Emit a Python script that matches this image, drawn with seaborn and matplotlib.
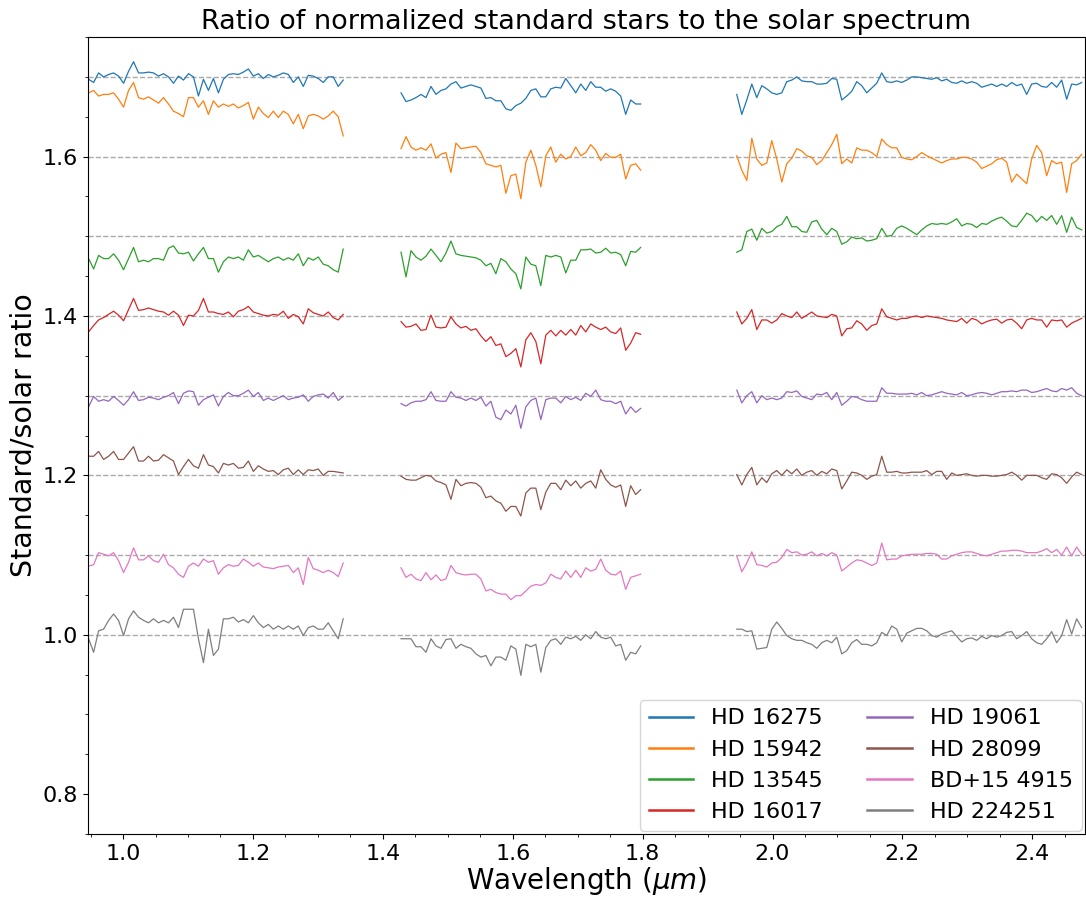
import numpy as np
import pandas as pd
import matplotlib
matplotlib.use("Agg")
import matplotlib.pyplot as plt
from matplotlib.lines import Line2D
from matplotlib.ticker import MultipleLocator
import seaborn as sns

# Standard stars, plotted top to bottom with a constant vertical offset
STARS = ["HD 16275", "HD 15942", "HD 13545", "HD 16017",
         "HD 19061", "HD 28099", "BD+15 4915", "HD 224251"]
OFFSETS = [0.7, 0.6, 0.5, 0.4, 0.3, 0.2, 0.1, 0.0]

# Wavelength coverage (micron) of the three atmospheric windows
BANDS = ["J", "H", "K"]
BAND_RANGES = {"J": (0.947, 1.339), "H": (1.428, 1.797), "K": (1.945, 2.476)}

# Standard / solar ratio, evenly sampled across each window
hd16275_j = [0.997, 0.993, 1.005, 1.000, 1.003, 1.005, 1.001, 0.992, 1.007, 1.019, 1.005, 1.005, 1.006,
             1.005, 1.001, 1.004, 1.000, 0.992, 1.001, 0.996, 1.004, 1.000, 0.976, 0.997, 0.983, 0.998,
             0.980, 0.997, 1.003, 1.004, 1.003, 1.006, 1.010, 1.001, 1.004, 0.998, 1.003, 1.000, 1.002,
             1.005, 1.003, 0.993, 1.000, 0.988, 1.002, 1.001, 0.998, 0.993, 1.000, 1.000, 0.988, 0.996]
hd16275_h = [0.980, 0.969, 0.971, 0.974, 0.978, 0.974, 0.988, 0.978, 0.983, 0.985, 0.991, 0.994, 0.986,
             0.988, 0.990, 0.988, 0.986, 0.973, 0.974, 0.970, 0.970, 0.960, 0.958, 0.964, 0.967, 0.973,
             0.983, 0.985, 0.975, 0.975, 0.985, 0.987, 0.986, 0.998, 0.989, 0.980, 0.991, 0.983, 0.994,
             0.987, 0.987, 0.982, 0.985, 0.982, 0.976, 0.953, 0.971, 0.966, 0.966]
hd16275_k = [0.978, 0.953, 0.971, 0.991, 0.974, 0.989, 0.985, 0.980, 0.978, 0.980, 0.994, 0.996, 1.000,
             0.995, 0.994, 0.994, 0.991, 0.991, 0.992, 0.998, 0.997, 0.971, 0.976, 0.982, 0.994, 0.989,
             0.980, 0.986, 0.992, 1.005, 0.994, 0.993, 0.995, 0.993, 0.996, 1.000, 1.000, 0.999, 0.998,
             0.997, 0.999, 0.995, 0.997, 0.993, 0.992, 0.995, 0.992, 0.994, 0.992, 0.987, 0.989, 0.991,
             0.988, 0.991, 0.988, 0.993, 0.989, 0.991, 0.978, 0.991, 0.992, 0.988, 0.987, 0.993, 0.987,
             0.996, 0.972, 0.991, 0.990, 0.993]

hd15942_j = [1.080, 1.083, 1.076, 1.078, 1.078, 1.080, 1.072, 1.062, 1.083, 1.093, 1.074, 1.072, 1.075,
             1.071, 1.067, 1.074, 1.066, 1.057, 1.054, 1.050, 1.074, 1.074, 1.062, 1.070, 1.053, 1.070,
             1.062, 1.066, 1.063, 1.066, 1.061, 1.064, 1.068, 1.047, 1.062, 1.054, 1.049, 1.057, 1.049,
             1.057, 1.053, 1.041, 1.053, 1.035, 1.051, 1.053, 1.051, 1.047, 1.051, 1.057, 1.050, 1.026]
hd15942_h = [1.010, 1.025, 1.012, 1.008, 1.011, 1.008, 1.016, 0.998, 1.003, 1.005, 0.980, 1.017, 1.010,
             1.011, 1.012, 1.013, 1.005, 0.991, 0.989, 0.987, 0.989, 0.954, 0.976, 0.978, 0.947, 0.993,
             1.008, 0.989, 0.962, 1.001, 1.012, 0.993, 1.003, 0.997, 1.000, 1.012, 1.001, 1.005, 1.015,
             1.008, 0.995, 1.004, 0.999, 0.999, 1.003, 0.972, 0.989, 0.991, 0.983]
hd15942_k = [1.001, 0.983, 0.970, 1.023, 0.997, 0.989, 0.992, 1.020, 0.997, 0.968, 0.991, 0.998, 1.010,
             1.007, 1.001, 0.999, 0.990, 0.995, 1.005, 1.015, 1.028, 0.991, 0.997, 0.992, 1.011, 1.008,
             1.008, 1.005, 1.000, 1.022, 1.015, 1.011, 1.011, 0.999, 0.997, 0.996, 1.000, 1.005, 1.001,
             0.998, 0.995, 0.992, 0.995, 0.997, 0.997, 0.999, 0.999, 0.997, 0.993, 0.985, 0.988, 0.991,
             0.996, 0.998, 0.993, 0.968, 0.978, 0.972, 0.966, 0.997, 1.014, 1.005, 0.976, 0.995, 0.991,
             0.993, 0.955, 0.991, 0.995, 1.003]

hd13545_j = [0.972, 0.959, 0.976, 0.972, 0.972, 0.978, 0.970, 0.958, 0.972, 0.986, 0.968, 0.970, 0.968,
             0.972, 0.972, 0.970, 0.985, 0.988, 0.979, 0.978, 0.980, 0.969, 0.978, 0.986, 0.972, 0.972,
             0.955, 0.968, 0.974, 0.972, 0.974, 0.970, 0.983, 0.974, 0.976, 0.972, 0.968, 0.972, 0.974,
             0.970, 0.973, 0.970, 0.978, 0.963, 0.973, 0.970, 0.974, 0.965, 0.963, 0.958, 0.955, 0.984]
hd13545_h = [0.980, 0.949, 0.982, 0.974, 0.970, 0.975, 0.984, 0.976, 0.968, 0.979, 0.994, 0.978, 0.976,
             0.975, 0.974, 0.973, 0.970, 0.963, 0.966, 0.953, 0.972, 0.968, 0.959, 0.953, 0.934, 0.974,
             0.965, 0.963, 0.938, 0.976, 0.974, 0.976, 0.974, 0.954, 0.970, 0.970, 0.983, 0.983, 0.984,
             0.979, 0.980, 0.985, 0.979, 0.980, 0.977, 0.963, 0.981, 0.980, 0.986]
hd13545_k = [0.980, 0.983, 1.006, 1.009, 0.995, 1.010, 1.004, 1.006, 1.012, 1.015, 1.025, 1.012, 1.012,
             1.006, 1.005, 1.018, 1.020, 1.009, 1.002, 1.010, 1.006, 0.990, 0.993, 0.999, 0.997, 0.998,
             0.994, 0.995, 0.997, 1.010, 1.000, 1.001, 1.010, 1.013, 1.010, 1.006, 1.002, 1.008, 1.013,
             1.016, 1.015, 1.016, 1.015, 1.018, 1.022, 1.013, 1.016, 1.015, 1.011, 1.016, 1.015, 1.019,
             1.022, 1.024, 1.019, 1.013, 1.012, 1.020, 1.029, 1.026, 1.018, 1.025, 1.020, 1.026, 1.015,
             1.026, 1.005, 1.024, 1.011, 1.008]

hd16017_j = [0.980, 0.988, 0.995, 0.998, 1.002, 1.006, 1.001, 0.994, 1.008, 1.022, 1.007, 1.008, 1.010,
             1.008, 1.006, 1.005, 1.001, 1.006, 1.001, 0.988, 1.001, 1.000, 1.007, 1.022, 1.005, 1.005,
             1.003, 1.002, 1.005, 0.999, 1.006, 1.008, 1.012, 1.005, 1.003, 1.001, 1.000, 1.002, 1.001,
             1.006, 0.997, 1.002, 0.999, 0.990, 1.009, 1.004, 1.002, 1.000, 1.005, 0.998, 0.995, 1.002]
hd16017_h = [0.993, 0.986, 0.987, 0.990, 0.982, 0.983, 1.001, 0.986, 0.985, 0.986, 0.999, 0.990, 0.985,
             0.987, 0.982, 0.984, 0.975, 0.968, 0.974, 0.963, 0.965, 0.949, 0.953, 0.959, 0.936, 0.970,
             0.979, 0.968, 0.940, 0.976, 0.982, 0.975, 0.982, 0.976, 0.983, 0.976, 0.988, 0.980, 0.990,
             0.986, 0.983, 0.986, 0.980, 0.978, 0.985, 0.957, 0.966, 0.979, 0.977]
hd16017_k = [1.005, 0.990, 0.997, 1.008, 0.983, 0.995, 0.995, 0.991, 0.995, 1.003, 1.000, 0.998, 1.005,
             0.997, 1.001, 1.005, 1.000, 0.999, 0.998, 1.002, 1.000, 0.975, 0.984, 0.985, 0.994, 0.990,
             0.982, 0.988, 0.990, 1.009, 0.999, 0.997, 0.995, 0.997, 0.997, 0.999, 1.000, 0.998, 1.000,
             0.999, 0.998, 0.997, 0.995, 0.994, 0.993, 0.997, 0.991, 0.997, 0.995, 0.990, 0.993, 0.995,
             0.996, 0.991, 0.995, 0.996, 0.991, 0.984, 0.995, 0.997, 0.995, 0.995, 0.986, 0.995, 0.994,
             0.995, 0.986, 0.991, 0.994, 0.997]

hd19061_j = [0.986, 0.999, 0.993, 0.995, 0.993, 0.999, 0.994, 0.988, 0.995, 1.005, 0.994, 0.995, 0.998,
             0.997, 0.995, 0.998, 1.000, 1.004, 0.990, 1.003, 1.006, 1.005, 0.988, 0.995, 0.998, 1.001,
             0.987, 0.999, 1.004, 1.000, 1.000, 1.003, 1.007, 0.999, 1.004, 0.994, 0.997, 0.994, 0.997,
             1.000, 0.995, 0.997, 0.998, 1.001, 0.993, 0.999, 1.001, 1.002, 0.997, 1.004, 0.994, 0.999]
hd19061_h = [0.990, 0.987, 0.991, 0.993, 0.993, 0.995, 1.005, 0.994, 0.993, 0.993, 1.005, 0.998, 0.997,
             0.994, 0.997, 0.994, 0.998, 0.987, 0.993, 0.973, 0.970, 0.982, 0.977, 0.988, 0.959, 0.986,
             0.994, 0.997, 0.970, 0.995, 0.997, 0.997, 0.991, 0.999, 0.995, 0.998, 0.994, 1.003, 0.999,
             1.007, 0.995, 0.993, 0.993, 0.990, 0.993, 0.977, 0.986, 0.979, 0.984]
hd19061_k = [1.007, 0.991, 1.000, 1.005, 0.991, 1.000, 0.995, 0.997, 0.995, 0.997, 1.005, 1.004, 1.006,
             0.999, 0.997, 0.995, 1.002, 1.001, 1.004, 0.995, 1.004, 0.988, 0.993, 0.999, 0.998, 0.995,
             0.993, 0.993, 0.993, 1.010, 1.003, 1.003, 1.002, 1.002, 1.002, 1.003, 1.001, 1.004, 1.000,
             1.001, 1.003, 1.005, 1.003, 1.002, 1.001, 1.004, 1.000, 1.001, 1.003, 1.004, 1.003, 1.001,
             1.003, 1.005, 1.005, 1.006, 1.005, 1.007, 1.007, 1.004, 1.005, 1.007, 1.009, 1.006, 1.005,
             1.009, 1.007, 1.010, 1.003, 1.000]

hd28099_j = [1.024, 1.024, 1.030, 1.020, 1.024, 1.030, 1.020, 1.020, 1.028, 1.036, 1.018, 1.018, 1.024,
             1.018, 1.019, 1.026, 1.022, 1.018, 1.001, 1.011, 1.020, 1.012, 1.009, 1.026, 1.013, 1.011,
             1.003, 1.015, 1.013, 1.015, 1.009, 1.010, 1.018, 1.005, 1.012, 1.008, 1.005, 1.006, 1.001,
             1.007, 1.009, 1.001, 1.007, 1.001, 1.007, 1.006, 1.008, 1.000, 1.005, 1.005, 1.004, 1.003]
hd28099_h = [0.999, 0.995, 0.994, 0.994, 0.997, 1.000, 0.999, 0.993, 0.991, 0.988, 0.970, 0.995, 0.987,
             0.990, 0.991, 0.990, 0.985, 0.972, 0.974, 0.968, 0.965, 0.955, 0.961, 0.961, 0.949, 0.978,
             0.984, 0.984, 0.957, 0.979, 0.990, 0.990, 0.982, 0.994, 0.987, 0.993, 0.984, 0.990, 0.993,
             0.984, 1.007, 0.995, 0.988, 0.985, 0.988, 0.961, 0.987, 0.976, 0.982]
hd28099_k = [1.001, 0.988, 1.001, 1.010, 0.988, 0.997, 0.991, 1.002, 1.006, 1.000, 1.007, 1.002, 1.008,
             1.000, 1.004, 1.006, 1.000, 1.005, 1.002, 1.008, 1.006, 0.983, 0.993, 1.004, 1.003, 1.000,
             0.995, 0.999, 1.001, 1.024, 1.004, 1.004, 1.005, 1.003, 1.003, 1.004, 1.004, 1.004, 1.006,
             1.001, 1.005, 1.005, 0.995, 1.003, 1.000, 1.001, 1.002, 1.000, 0.999, 1.000, 1.000, 0.999,
             0.999, 1.000, 1.001, 1.004, 1.000, 0.994, 1.000, 1.000, 1.000, 0.997, 0.995, 1.002, 1.001,
             0.997, 0.990, 0.998, 1.004, 1.001]

bd15_4915_j = [0.986, 0.988, 1.003, 1.001, 0.999, 1.003, 0.993, 0.978, 0.991, 1.009, 0.994, 0.994, 0.999,
               0.993, 0.991, 1.001, 0.988, 0.984, 0.976, 0.972, 0.986, 0.990, 0.986, 0.995, 0.991, 0.993,
               0.976, 0.984, 0.988, 0.986, 0.987, 0.995, 0.991, 0.986, 0.990, 0.985, 0.984, 0.983, 0.985,
               0.986, 0.987, 0.978, 0.984, 0.963, 0.997, 0.983, 0.981, 0.978, 0.981, 0.978, 0.973, 0.990]
bd15_4915_h = [0.984, 0.972, 0.976, 0.970, 0.968, 0.978, 0.969, 0.975, 0.968, 0.970, 0.987, 0.978, 0.976,
               0.975, 0.976, 0.976, 0.970, 0.955, 0.957, 0.953, 0.951, 0.951, 0.944, 0.949, 0.949, 0.955,
               0.961, 0.963, 0.962, 0.965, 0.976, 0.972, 0.970, 0.980, 0.972, 0.981, 0.972, 0.984, 0.980,
               0.982, 0.995, 0.981, 0.976, 0.975, 0.980, 0.957, 0.972, 0.974, 0.976]
bd15_4915_k = [0.999, 0.979, 0.990, 1.004, 0.988, 0.987, 0.985, 0.990, 0.991, 0.997, 1.007, 1.003, 1.004,
               1.000, 1.001, 1.004, 0.999, 1.002, 0.999, 1.003, 1.000, 0.980, 0.985, 0.990, 0.994, 0.993,
               0.990, 0.987, 0.990, 1.015, 0.994, 0.995, 0.995, 0.999, 1.000, 1.001, 1.001, 1.001, 1.002,
               1.002, 1.001, 0.995, 0.995, 0.999, 1.001, 1.003, 1.004, 1.004, 1.002, 1.000, 0.999, 1.001,
               1.003, 1.005, 1.005, 1.006, 1.006, 1.005, 1.003, 1.003, 1.003, 1.005, 1.008, 1.003, 1.007,
               1.000, 1.010, 0.999, 1.010, 1.001]

hd224251_j = [0.995, 0.978, 1.005, 1.007, 1.018, 1.026, 1.018, 0.999, 1.020, 1.030, 1.022, 1.018, 1.015,
              1.020, 1.015, 1.018, 1.015, 1.022, 1.009, 1.032, 1.032, 1.032, 0.995, 0.965, 1.007, 0.974,
              0.982, 1.020, 1.020, 1.022, 1.016, 1.019, 1.015, 1.024, 1.015, 1.009, 1.013, 1.007, 1.011,
              1.007, 1.011, 1.007, 1.011, 0.999, 1.009, 1.011, 1.007, 1.007, 1.015, 1.005, 0.995, 1.020]
hd224251_h = [0.995, 0.995, 0.995, 0.985, 0.985, 0.978, 0.995, 0.986, 0.983, 0.994, 0.995, 0.983, 0.988,
              0.985, 0.983, 0.976, 0.972, 0.974, 0.961, 0.972, 0.972, 0.968, 0.986, 0.982, 0.949, 0.988,
              0.985, 0.988, 0.953, 0.984, 0.993, 0.995, 0.988, 0.997, 0.995, 0.998, 0.993, 1.000, 0.995,
              1.004, 0.997, 0.995, 0.997, 0.986, 0.988, 0.968, 0.978, 0.976, 0.986]
hd224251_k = [1.007, 1.007, 1.004, 1.005, 0.982, 0.983, 0.984, 1.007, 1.016, 1.008, 0.999, 0.995, 0.993,
              0.993, 0.990, 0.988, 0.983, 0.990, 0.993, 0.990, 0.997, 0.976, 0.980, 0.990, 0.994, 0.988,
              0.988, 0.986, 0.990, 1.003, 0.999, 1.011, 1.007, 0.991, 1.002, 1.005, 1.008, 1.008, 1.005,
              0.999, 0.997, 1.001, 1.003, 1.005, 0.998, 0.991, 0.995, 0.996, 0.993, 0.998, 0.995, 0.999,
              0.997, 0.999, 1.003, 1.004, 0.995, 0.999, 1.004, 0.995, 0.990, 0.988, 0.995, 1.004, 0.990,
              0.999, 1.019, 1.001, 1.020, 1.009]

SPECTRA = {
    "HD 16275": {"J": hd16275_j, "H": hd16275_h, "K": hd16275_k},
    "HD 15942": {"J": hd15942_j, "H": hd15942_h, "K": hd15942_k},
    "HD 13545": {"J": hd13545_j, "H": hd13545_h, "K": hd13545_k},
    "HD 16017": {"J": hd16017_j, "H": hd16017_h, "K": hd16017_k},
    "HD 19061": {"J": hd19061_j, "H": hd19061_h, "K": hd19061_k},
    "HD 28099": {"J": hd28099_j, "H": hd28099_h, "K": hd28099_k},
    "BD+15 4915": {"J": bd15_4915_j, "H": bd15_4915_h, "K": bd15_4915_k},
    "HD 224251": {"J": hd224251_j, "H": hd224251_h, "K": hd224251_k},
}

# Long-form table: one row per sample, offset applied per star
frames = []
for star, off in zip(STARS, OFFSETS):
    for band in BANDS:
        vals = np.asarray(SPECTRA[star][band], dtype=float)
        lo, hi = BAND_RANGES[band]
        frames.append(pd.DataFrame({
            "star": star,
            "band": band,
            "wavelength": np.linspace(lo, hi, len(vals)),
            "ratio": vals + off,
        }))
df = pd.concat(frames, ignore_index=True)

palette = dict(zip(STARS, sns.color_palette("tab10", len(STARS))))

fig = plt.figure(figsize=(10.86, 8.99), dpi=100)
ax = fig.add_axes([0.081, 0.0723, 0.918, 0.8865])

# Reference level (ratio = 1) for each offset spectrum
for off in OFFSETS:
    ax.axhline(1.0 + off, color="#aaaaaa", ls="--", lw=1.0, zorder=0)

sns.lineplot(data=df, x="wavelength", y="ratio", hue="star", hue_order=STARS,
             units="band", estimator=None, sort=False, palette=palette,
             lw=0.9, legend=False, ax=ax)

ax.set_xlim(0.946, 2.481)
ax.set_ylim(0.75, 1.75)
ax.xaxis.set_major_locator(MultipleLocator(0.2))
ax.xaxis.set_minor_locator(MultipleLocator(0.05))
ax.yaxis.set_major_locator(MultipleLocator(0.2))
ax.yaxis.set_minor_locator(MultipleLocator(0.05))
ax.tick_params(axis="both", which="major", labelsize=16)

ax.set_title("Ratio of normalized standard stars to the solar spectrum", fontsize=19.5)
ax.set_xlabel(r"Wavelength ($\mu m$)", fontsize=20, labelpad=1)
ax.set_ylabel("Standard/solar ratio", fontsize=20.5)

handles = [Line2D([], [], color=palette[s], lw=1.8) for s in STARS]
ax.legend(handles, STARS, ncol=2, loc="lower right", fontsize=16,
          borderaxespad=0.15)

fig.savefig("out.png", dpi=100)
